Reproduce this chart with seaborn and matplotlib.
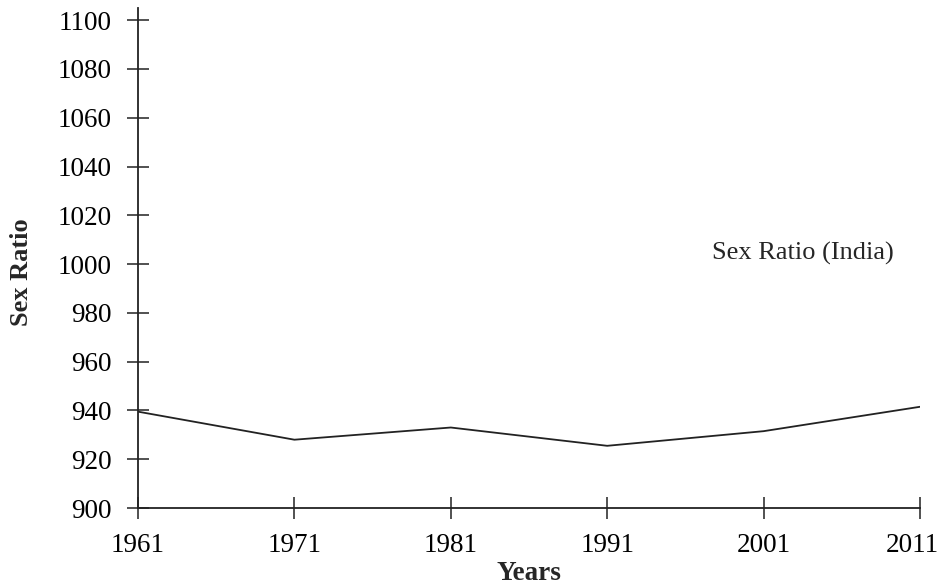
import matplotlib
matplotlib.use("Agg")
import matplotlib.pyplot as plt
import matplotlib.transforms as mtransforms
import seaborn as sns
import pandas as pd

years = [1961, 1971, 1981, 1991, 2001, 2011]
sex_ratio = [939.5, 928, 933, 925.5, 931.5, 941.5]
y_ticks = [900, 920, 940, 960, 980, 1000, 1020, 1040, 1060, 1080, 1100]
series_label = "Sex Ratio (India)"

sns.set_style("ticks")
plt.rcParams['font.family'] = ['Liberation Serif', 'DejaVu Serif']

df = pd.DataFrame({"Years": years, "Sex Ratio": sex_ratio})

fig = plt.figure(figsize=(9.42, 5.84), dpi=100)
ax = fig.add_axes([138/942, 1-508/584, (920-138)/942, (508-8)/584])
sns.lineplot(data=df, x="Years", y="Sex Ratio", ax=ax, color="#222222", linewidth=1.3)

ax.set_xlim(1961, 2011)
ax.set_ylim(900, 1105)
ax.set_xticks(years)
ax.set_yticks(y_ticks)
ax.tick_params(axis='both', direction='inout', length=16, width=1.1, colors="#222222",
               labelcolor="black", labelsize=19.5)
ax.tick_params(axis='y', pad=11)
ax.tick_params(axis='x', pad=10)
for s in ['top', 'right']:
    ax.spines[s].set_visible(False)
for s in ['left', 'bottom']:
    ax.spines[s].set_linewidth(1.3)
    ax.spines[s].set_color("#222222")

# shift last x tick label slightly left so it stays inside the figure
last = ax.get_xticklabels()[-1]
last.set_transform(last.get_transform() + mtransforms.ScaledTranslation(-8/100, 0, fig.dpi_scale_trans))

ax.set_xlabel("Years", fontsize=19.5, fontweight='bold')
ax.set_ylabel("Sex Ratio", fontsize=19, fontweight='bold')
ax.xaxis.set_label_coords(0.5, -0.105)
ax.yaxis.set_label_coords(-0.134, 0.472)
ax.text(1997.7, 1004.5, series_label, fontsize=19, ha='left', va='center')

fig.savefig("out.png", dpi=100)
